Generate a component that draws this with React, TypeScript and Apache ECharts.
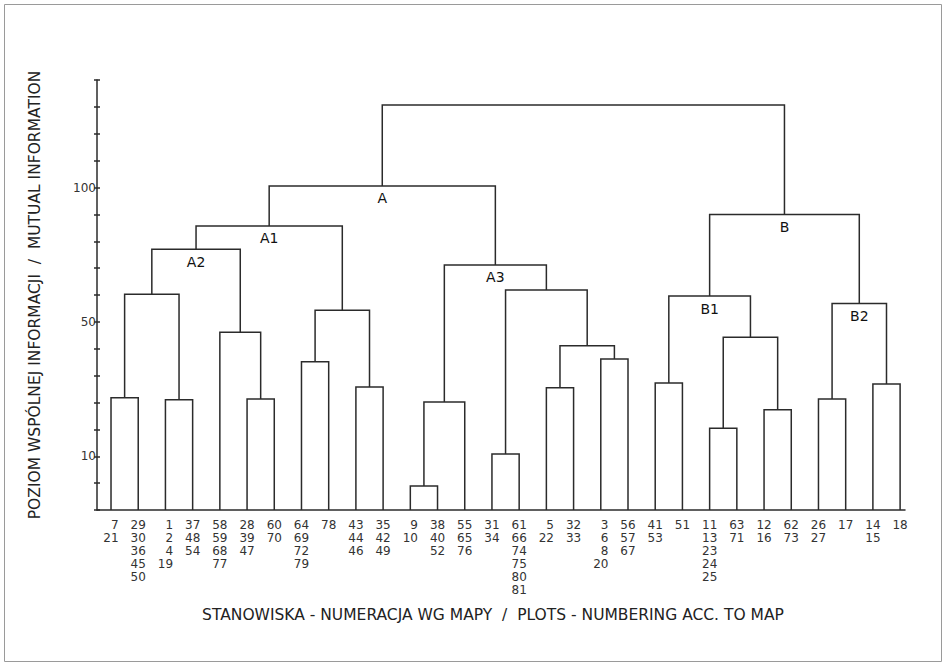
import React, { useEffect, useRef } from "react";
import * as echarts from "echarts";

// Leaf groups (plots numbering), left to right
const leafLabels: string[] = [
  "7\n21",
  "29\n30\n36\n45\n50",
  "1\n2\n4\n19",
  "37\n48\n54",
  "58\n59\n68\n77",
  "28\n39\n47",
  "60\n70",
  "64\n69\n72\n79",
  "78",
  "43\n44\n46",
  "35\n42\n49",
  "9\n10",
  "38\n40\n52",
  "55\n65\n76",
  "31\n34",
  "61\n66\n74\n75\n80\n81",
  "5\n22",
  "32\n33",
  "3\n6\n8\n20",
  "56\n57\n67",
  "41\n53",
  "51",
  "11\n13\n23\n24\n25",
  "63\n71",
  "12\n16",
  "62\n73",
  "26\n27",
  "17",
  "14\n15",
  "18",
];

// Merges: [left node id, right node id, level in axis tick units]
// leaves are ids 0..29, merge k gets id 30 + k
const merges: [number, number, number][] = [
  [0, 1, 4.18], // 30
  [2, 3, 4.1], // 31
  [30, 31, 8.03], // 32
  [5, 6, 4.13], // 33
  [4, 33, 6.61], // 34
  [32, 34, 9.7], // 35 A2
  [7, 8, 5.52], // 36
  [9, 10, 4.58], // 37
  [36, 37, 7.43], // 38
  [35, 38, 10.57], // 39 A1
  [11, 12, 0.89], // 40
  [40, 13, 4.02], // 41
  [14, 15, 2.08], // 42
  [16, 17, 4.55], // 43
  [18, 19, 5.62], // 44
  [43, 44, 6.11], // 45
  [42, 45, 8.19], // 46
  [41, 46, 9.12], // 47 A3
  [39, 47, 12.06], // 48 A
  [20, 21, 4.73], // 49
  [22, 23, 3.04], // 50
  [24, 25, 3.73], // 51
  [50, 51, 6.43], // 52
  [49, 52, 7.96], // 53 B1
  [26, 27, 4.13], // 54
  [28, 29, 4.69], // 55
  [54, 55, 7.68], // 56 B2
  [53, 56, 11.0], // 57 B
  [48, 57, 15.07], // 58 root
];

const clusterIds: number[] = [48, 39, 35, 47, 57, 53, 56];
const clusterNames: string[] = ["A", "A1", "A2", "A3", "B", "B1", "B2"];

// y tick labels: [tick index, label]
const yTickIndex: number[] = [2, 7, 12];
const yTickText: string[] = ["10", "50", "100"];

const yTitle = "POZIOM WSPÓLNEJ INFORMACJI  /  MUTUAL INFORMATION";
const xTitle = "STANOWISKA - NUMERACJA WG MAPY  /  PLOTS - NUMBERING ACC. TO MAP";

const FONT = "DejaVu Sans";
const INK = "#2b2b2b";

export default function App() {
  const ref = useRef<HTMLDivElement>(null);
  useEffect(() => {
    document.body.style.margin = "0";
    const chart = echarts.init(ref.current as HTMLDivElement, null, { renderer: "svg" });

    const xs: number[] = leafLabels.map((_, i) => i);
    const hs: number[] = leafLabels.map(() => 0);
    const links: number[][] = merges.map(([a, b, h]) => {
      const item = [xs[a], xs[b], hs[a], hs[b], h];
      xs.push((xs[a] + xs[b]) / 2);
      hs.push(h);
      return item;
    });
    const names: number[][] = clusterIds.map((id) => [xs[id], hs[id]]);

    const tickMap: Record<number, string> = {};
    yTickIndex.forEach((t, i) => (tickMap[t] = yTickText[i]));

    chart.setOption({
      animation: false,
      backgroundColor: "#ffffff",
      graphic: [
        {
          type: "rect",
          shape: { x: 4.5, y: 4.5, width: 937, height: 657 },
          style: { fill: "none", stroke: "#9a9a9a", lineWidth: 1 },
          silent: true,
        },
      ],
      grid: { left: 97, right: 41, top: 80, bottom: 156, containLabel: false },
      xAxis: {
        type: "value",
        min: -0.515,
        max: 29.18,
        axisLine: { show: true, onZero: false, lineStyle: { color: INK, width: 1.5 } },
        axisTick: { show: false },
        axisLabel: { show: false },
        splitLine: { show: false },
        name: xTitle,
        nameLocation: "middle",
        nameGap: 97,
        nameTextStyle: { fontFamily: FONT, fontSize: 15.5, color: "#222", padding: [0, 16, 0, 0] },
      },
      yAxis: [
        {
          type: "value",
          min: 0,
          max: 16,
          interval: 1,
          axisLine: { show: true, onZero: false, lineStyle: { color: INK, width: 1.5 } },
          axisTick: { show: true, length: 3, lineStyle: { color: INK, width: 1.5 } },
          axisLabel: {
            show: true,
            margin: 1,
            fontFamily: FONT,
            fontSize: 12,
            color: "#333",
            formatter: (v: number) => tickMap[v] ?? "",
          },
          splitLine: { show: false },
          name: yTitle,
          nameLocation: "middle",
          nameGap: 54,
          nameTextStyle: { fontFamily: FONT, fontSize: 15.5, color: "#222" },
        },
        {
          type: "value",
          min: 0,
          max: 16,
          interval: 1,
          position: "left",
          axisLine: { show: false, onZero: false },
          axisTick: { show: true, inside: true, length: 3, lineStyle: { color: INK, width: 1.5 } },
          axisLabel: { show: false },
          splitLine: { show: false },
        },
      ],
      series: [
        {
          type: "custom",
          name: "links",
          coordinateSystem: "cartesian2d",
          clip: false,
          silent: true,
          encode: { x: [0, 1], y: [2, 3, 4] },
          data: links,
          renderItem: (params: any, api: any) => {
            const xl = api.value(0);
            const xr = api.value(1);
            const hl = api.value(2);
            const hr = api.value(3);
            const h = api.value(4);
            const p = [
              api.coord([xl, hl]),
              api.coord([xl, h]),
              api.coord([xr, h]),
              api.coord([xr, hr]),
            ];
            return {
              type: "polyline",
              shape: { points: p },
              style: { stroke: INK, lineWidth: 1.5, fill: "none" },
            };
          },
        },
        {
          type: "custom",
          name: "leaves",
          coordinateSystem: "cartesian2d",
          clip: false,
          silent: true,
          encode: { x: 0, y: 1 },
          data: leafLabels.map((_, i) => [i, 0]),
          renderItem: (params: any, api: any) => {
            const c = api.coord([api.value(0), api.value(1)]);
            const lines = leafLabels[params.dataIndex].split("\n");
            return {
              type: "text",
              x: c[0],
              y: c[1] + 8.5,
              style: {
                text: lines.map((l) => `{r|${l}}`).join("\n"),
                align: "center",
                verticalAlign: "top",
                fill: "#333",
                fontFamily: FONT,
                fontSize: 12,
                lineHeight: 13,
                rich: {
                  r: { align: "right", fontFamily: FONT, fontSize: 12, lineHeight: 13, fill: "#333" },
                },
              },
            };
          },
        },
        {
          type: "custom",
          name: "clusters",
          coordinateSystem: "cartesian2d",
          clip: false,
          silent: true,
          encode: { x: 0, y: 1 },
          data: names,
          renderItem: (params: any, api: any) => {
            const c = api.coord([api.value(0), api.value(1)]);
            return {
              type: "text",
              x: c[0],
              y: c[1] + 12.5,
              style: {
                text: clusterNames[params.dataIndex],
                align: "center",
                verticalAlign: "middle",
                fill: "#111",
                fontFamily: FONT,
                fontSize: 14,
              },
            };
          },
        },
      ],
    });
    return () => chart.dispose();
  }, []);
  return <div ref={ref} style={{ width: 946, height: 666 }} />;
}
